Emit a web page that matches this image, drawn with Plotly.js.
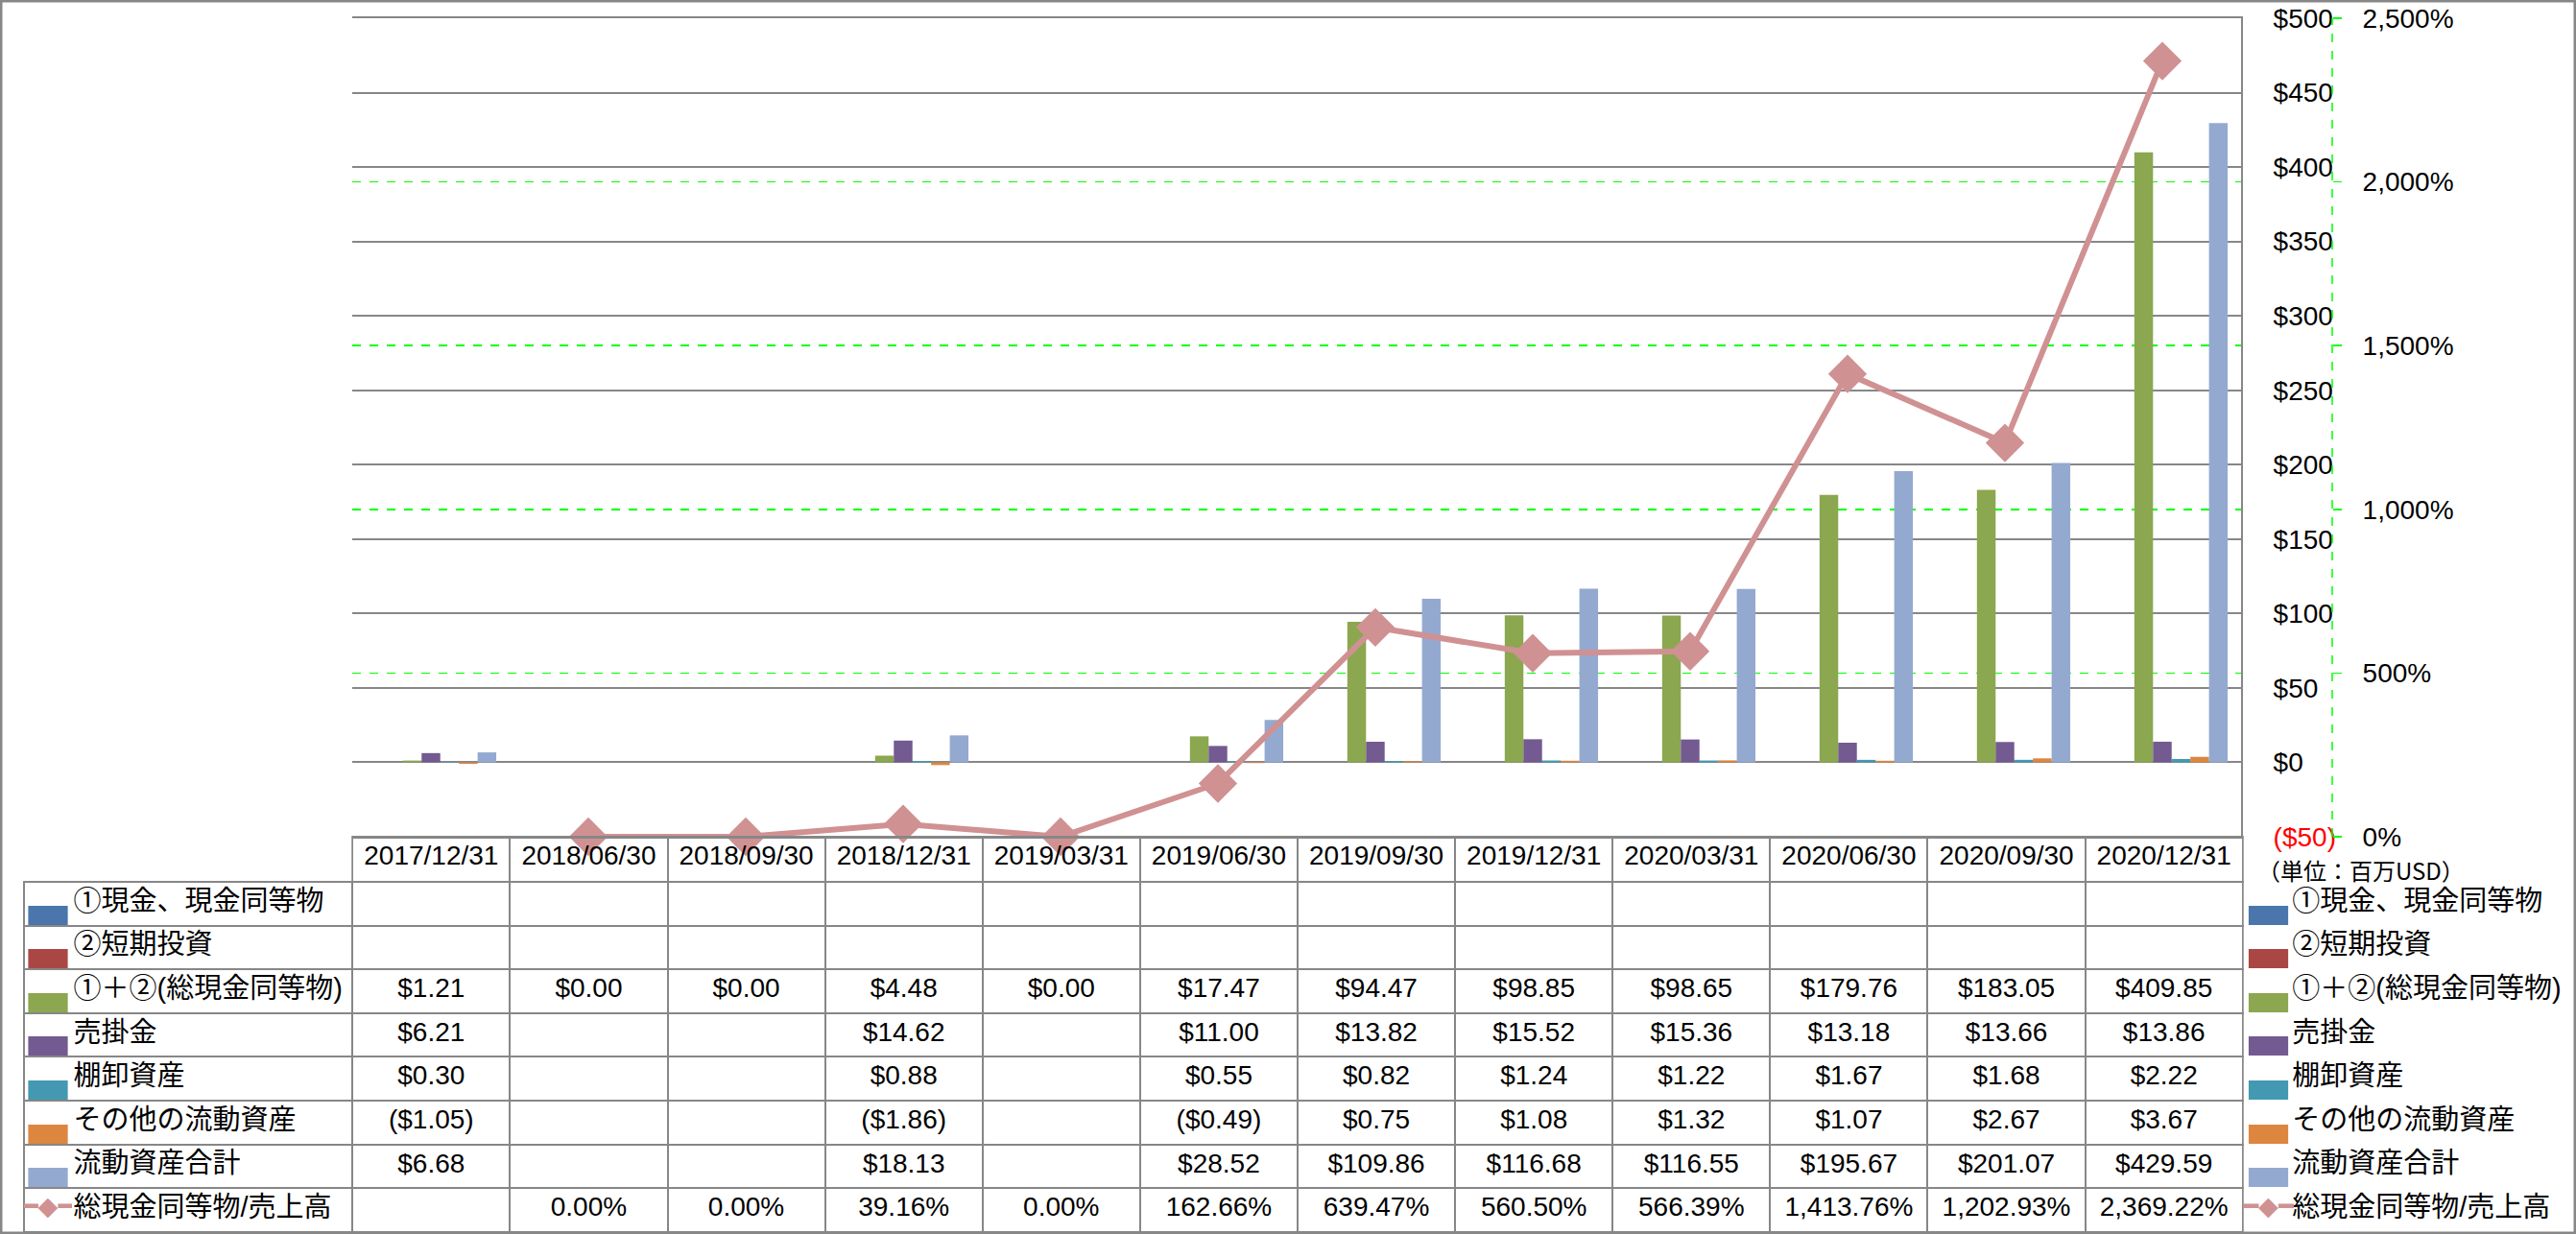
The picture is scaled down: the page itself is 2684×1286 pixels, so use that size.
<!DOCTYPE html>
<html>
<head>
<meta charset="utf-8">
<script src="https://cdn.plot.ly/plotly-3.0.1.min.js"></script>
<style>
  body { margin: 0; background: #fff; }
  #chart { width: 2684px; height: 1286px; }
</style>
</head>
<body>
<div id="chart"></div>
<script>
// 期間
const periods = [
  "2017/12/31", "2018/06/30", "2018/09/30", "2018/12/31", "2019/03/31", "2019/06/30",
  "2019/09/30", "2019/12/31", "2020/03/31", "2020/06/30", "2020/09/30", "2020/12/31",
];

// 系列名
const seriesNames = [
  "①現金、現金同等物", "②短期投資", "①＋②(総現金同等物)", "売掛金",
  "棚卸資産", "その他の流動資産", "流動資産合計", "総現金同等物/売上高",
];

// 金額 (百万USD)
const cash = [null, null, null, null, null, null, null, null, null, null, null, null];
const shortInv = [null, null, null, null, null, null, null, null, null, null, null, null];
const totalCash = [1.21, 0.0, 0.0, 4.48, 0.0, 17.47, 94.47, 98.85, 98.65, 179.76, 183.05, 409.85];
const receivables = [6.21, null, null, 14.62, null, 11.0, 13.82, 15.52, 15.36, 13.18, 13.66, 13.86];
const inventory = [0.3, null, null, 0.88, null, 0.55, 0.82, 1.24, 1.22, 1.67, 1.68, 2.22];
const otherCurrent = [-1.05, null, null, -1.86, null, -0.49, 0.75, 1.08, 1.32, 1.07, 2.67, 3.67];
const totalCurrent = [6.68, null, null, 18.13, null, 28.52, 109.86, 116.68, 116.55, 195.67, 201.07, 429.59];

// 総現金同等物/売上高 (%)
const cashToSales = [null, 0.0, 0.0, 39.16, 0.0, 162.66, 639.47, 560.5, 566.39, 1413.76, 1202.93, 2369.22];

// 軸目盛
const usdTicks = [-50, 0, 50, 100, 150, 200, 250, 300, 350, 400, 450, 500];
const usdTickText = [
  "<span style='color:#FF0000'>($50)</span>", "$0", "$50", "$100", "$150", "$200",
  "$250", "$300", "$350", "$400", "$450", "$500",
];
const unitLabel = "（単位：百万USD）";

const barSeries = [cash, shortInv, totalCash, receivables, inventory, otherCurrent, totalCurrent];
const colors = ["#4A76AB", "#AA4744", "#8BA74F", "#735A90", "#4399B1", "#DD8640", "#94A9D0"];
const lineColor = "#D09192";

const FONT = "'Liberation Sans', 'Noto Sans CJK JP', sans-serif";
const W = 2684, H = 1286;
const gridColor = "#878787";

function money(v) {
  if (v === null || v === undefined) return "";
  const s = "$" + Math.abs(v).toFixed(2);
  return v < 0 ? "(" + s + ")" : s;
}
function pct(v) {
  if (v === null || v === undefined) return "";
  return v.toLocaleString("en-US", { minimumFractionDigits: 2, maximumFractionDigits: 2 }) + "%";
}

const traces = [];

// 棒 (7系列, Excelと同じく空の系列の枠も確保)
const groupWidth = 0.83;
const slot = groupWidth / barSeries.length;
barSeries.forEach((vals, i) => {
  traces.push({
    type: "bar",
    x: periods,
    y: vals,
    name: seriesNames[i],
    width: slot,
    offset: (i - barSeries.length / 2) * slot,
    marker: { color: colors[i] },
    showlegend: false,
    hoverinfo: "skip",
  });
});

traces.push({
  type: "scatter",
  mode: "lines+markers",
  x: periods,
  y: cashToSales,
  yaxis: "y2",
  name: seriesNames[7],
  line: { color: lineColor, width: 6 },
  marker: { symbol: "diamond", size: 31, color: lineColor },
  cliponaxis: false,
  showlegend: false,
  hoverinfo: "skip",
});

// データテーブル (左: 系列名, 中: 値, 右: 凡例)
const pad = "\u3000\u2002";
const labelCol = seriesNames.map((n) => pad + n);
const valueCols = periods.map((p, j) => {
  const col = barSeries.map((s) => money(s[j]));
  col.push(pct(cashToSales[j]));
  return col;
});
const nCols = periods.length + 2;
const lineColors = [];
for (let c = 0; c < nCols; c++) lineColors.push(c === nCols - 1 ? "rgba(0,0,0,0)" : gridColor);
const headLine = lineColors.map((c, k) => (k === 0 ? "rgba(0,0,0,0)" : c));
const aligns = ["left"].concat(periods.map(() => "center"), ["left"]);
const sizes = [29].concat(periods.map(() => 28), [29]);
const tableTop = (H - 872) / H;

traces.push({
  type: "table",
  domain: { x: [25 / W, 1], y: [0, tableTop] },
  columnwidth: [342].concat(periods.map(() => 164), [347]),
  header: {
    values: [""].concat(periods, [""]),
    height: 47,
    align: aligns,
    fill: { color: "rgba(0,0,0,0)" },
    line: { color: headLine, width: 2 },
    font: { family: FONT, size: 28, color: "#000" },
  },
  cells: {
    values: [labelCol].concat(valueCols, [labelCol]),
    height: 45.6,
    align: aligns,
    fill: { color: "rgba(0,0,0,0)" },
    line: { color: lineColors, width: 2 },
    font: { family: FONT, size: sizes, color: "#000" },
  },
});

// 凡例記号 (左右の系列名の前)
const symbols = seriesNames.map((n, i) => (i < barSeries.length ? "▬" : "━◆━"));
const symColors = seriesNames.map((n, i) => (i < barSeries.length ? colors[i] : lineColor));
const symSizes = seriesNames.map((n, i) => (i < barSeries.length ? 54 : 27));
const blank = seriesNames.map(() => "");
traces.push({
  type: "table",
  domain: { x: [25 / W, 1], y: [0, tableTop] },
  columnwidth: [50, 2262, 53, 294],
  header: {
    values: ["", "", "", ""],
    height: 47,
    fill: { color: "rgba(0,0,0,0)" },
    line: { color: "rgba(0,0,0,0)", width: 0 },
  },
  cells: {
    values: [symbols, blank, symbols, blank],
    height: 45.6,
    align: "center",
    fill: { color: "rgba(0,0,0,0)" },
    line: { color: "rgba(0,0,0,0)", width: 0 },
    font: {
      family: "'DejaVu Sans', sans-serif",
      size: [symSizes, symSizes, symSizes, symSizes],
      color: [symColors, symColors, symColors, symColors],
    },
  },
});

const layout = {
  width: W,
  height: H,
  margin: { l: 0, r: 0, t: 0, b: 0 },
  paper_bgcolor: "#fff",
  plot_bgcolor: "#fff",
  font: { family: FONT, size: 28, color: "#000" },
  showlegend: false,
  barmode: "group",
  xaxis: {
    domain: [367 / W, 2335 / W],
    type: "category",
    range: [-0.5, periods.length - 0.5],
    showticklabels: false,
    showgrid: false,
    zeroline: false,
    showline: true,
    mirror: true,
    linecolor: gridColor,
    linewidth: 2,
    ticks: "",
  },
  yaxis: {
    domain: [tableTop, (H - 19) / H],
    range: [-50, 500],
    side: "right",
    tickvals: usdTicks,
    ticktext: usdTickText,
    ticks: "",
    ticklabelstandoff: 26,
    showgrid: true,
    gridcolor: gridColor,
    gridwidth: 2,
    zeroline: false,
    showline: true,
    linecolor: gridColor,
    linewidth: 2,
    tickfont: { family: FONT, size: 28, color: "#000" },
  },
  yaxis2: {
    overlaying: "y",
    anchor: "free",
    position: 2430 / W,
    side: "right",
    range: [0, 2500],
    dtick: 500,
    tickformat: ",",
    ticksuffix: "%",
    ticks: "outside",
    ticklen: 9,
    tickwidth: 1.5,
    tickcolor: "#00FF00",
    ticklabelstandoff: 16,
    showgrid: true,
    gridcolor: "#00FF00",
    griddash: "dash",
    gridwidth: 1.5,
    zeroline: false,
    showline: false,
    tickfont: { family: FONT, size: 28, color: "#000" },
  },
  annotations: [
    {
      text: unitLabel,
      xref: "paper",
      yref: "paper",
      x: 2350 / W,
      y: (H - 906) / H,
      xanchor: "left",
      yanchor: "middle",
      showarrow: false,
      font: { family: "'Noto Sans CJK JP', sans-serif", size: 24, color: "#000" },
    },
  ],
  shapes: [
    {
      type: "line",
      xref: "paper",
      x0: 2430 / W,
      x1: 2430 / W,
      yref: "y2 domain",
      y0: 0,
      y1: 1,
      line: { color: "#00FF00", width: 1.5, dash: "dash" },
    },
    {
      type: "rect",
      xref: "paper",
      yref: "paper",
      x0: 0,
      x1: 1,
      y0: 0,
      y1: 1,
      line: { color: "#878787", width: 5 },
    },
  ],
};

Plotly.newPlot("chart", traces, layout, { displayModeBar: false, staticPlot: true });
</script>
</body>
</html>
